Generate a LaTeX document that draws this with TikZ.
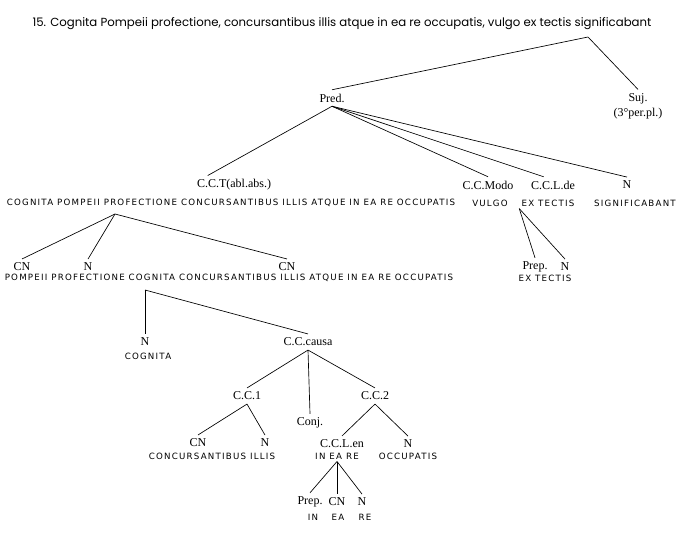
\documentclass[tikz,border=0pt]{standalone}
\usepackage{fontspec}
\setmainfont{Liberation Serif}
\newfontfamily\headfont{Poppins}
\newfontfamily\wordfont[LetterSpace=14]{DejaVu Sans}
\usepackage{tikz}
\tikzstyle{catlab}=[inner sep=1.5pt, outer sep=1.5pt, font=\fontsize{9}{11}\selectfont]
\tikzstyle{latword}=[inner sep=1.5pt, font=\wordfont\fontsize{6.5}{7}\selectfont]
\newcommand{\labnode}{\node[catlab]}
\newcommand{\wordnode}{\node[latword]}

\begin{document}
\begin{tikzpicture}[x=0.75pt,y=-0.75pt,line width=0.5pt]
	\useasboundingbox (0,0) rectangle (680,542);
	%% The sentence on top; the tree hangs from the point (top) below its end.
	\node (head) at (342,24) {\headfont\fontsize{8.8}{10}\selectfont 15. Cognita Pompeii profectione, concursantibus illis atque in ea re occupatis, vulgo ex tectis significabant};
	\coordinate (top) at (588,37);
	\labnode (pred) at (332,98) {Pred.};
	\labnode[align=center] (suj) at (638,106) {Suj.\\(3°per.pl.)};
	%% First level under Pred.
	\labnode (cct) at (234,185) {C.C.T(abl.abs.)};
	\labnode (modo) at (488,185) {C.C.Modo};
	\labnode (ccl) at (553,185) {C.C.L.de};
	\labnode (nsig) at (627,185) {N};
	\wordnode (row1) at (231,203) {COGNITA POMPEII PROFECTIONE CONCURSANTIBUS ILLIS ATQUE IN EA RE OCCUPATIS};
	\wordnode (wvul) at (490,203) {VULGO};
	\wordnode (wext) at (548,203) {EX TECTIS};
	\wordnode (wsig) at (635,203) {SIGNIFICABANT};
	%% Ablative absolute
	\coordinate (r1) at (115,214);
	\labnode (cn1) at (22,267) {CN};
	\labnode (n1) at (88,267) {N};
	\labnode (cn2) at (287,267) {CN};
	\wordnode (row2) at (229,278) {POMPEII PROFECTIONE COGNITA CONCURSANTIBUS ILLIS ATQUE IN EA RE OCCUPATIS};
	\coordinate (r2) at (145,290);
	\labnode (ncog) at (145,342) {N};
	\wordnode (wcog) at (148,356) {COGNITA};
	\labnode (causa) at (308,342) {C.C.causa};
	\labnode (c1) at (247,396) {C.C.1};
	\labnode (conj) at (310,423) {Conj.};
	\labnode (c2) at (375,396) {C.C.2};
	\labnode (cn3) at (198,443) {CN};
	\labnode (n3) at (265,443) {N};
	\wordnode (wcon) at (212,456) {CONCURSANTIBUS ILLIS};
	\labnode (ccle) at (342,444) {C.C.L.en};
	\labnode (n4) at (408,444) {N};
	\wordnode (winer) at (337,456) {IN EA RE};
	\wordnode (wocc) at (408,456) {OCCUPATIS};
	\labnode (prep) at (310,502) {Prep.};
	\labnode (cn5) at (337,502) {CN};
	\labnode (n5) at (362,502) {N};
	\wordnode (win) at (313,517) {IN};
	\wordnode (wea) at (338,517) {EA};
	\wordnode (wre) at (365,517) {RE};
	%% ex tectis
	\labnode (prep2) at (535,267) {Prep.};
	\labnode (n6) at (565,267) {N};
	\wordnode (wext2) at (545,278) {EX TECTIS};
	\path
		(top) edge (pred.north)
		(top) edge (suj.north)
		(pred.south) edge ([xshift=11pt]cct.north west)
		(pred.south) edge (modo.north)
		(pred.south) edge ([xshift=-7pt]ccl.north)
		(pred.south) edge (nsig.north)
		(r1) edge (cn1.north)
		(r1) edge (n1.north)
		(r1) edge (cn2.north)
		(r2) edge (ncog.north)
		(r2) edge (causa.north)
		(causa.south) edge (c1.north)
		(causa.south) edge (conj.north)
		(causa.south) edge (c2.north)
		(c1.south) edge (cn3.north)
		(c1.south) edge (n3.north)
		(c2.south) edge (ccle.north)
		(c2.south) edge (n4.north)
		(winer.south) edge (prep.north)
		(winer.south) edge (cn5.north)
		(winer.south) edge (n5.north)
		(wext.south west) edge (prep2.north)
		(wext.south west) edge (n6.north)
	 ;
\end{tikzpicture}
\end{document}
